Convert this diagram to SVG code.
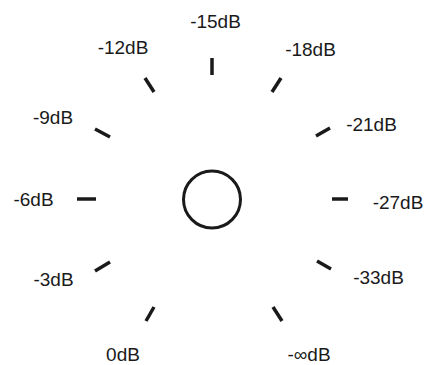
<svg xmlns="http://www.w3.org/2000/svg" width="426" height="365" viewBox="0 0 426 365">
<style>
.lbl{font-family:"Liberation Sans",Arial,sans-serif;font-size:19px;fill:#1a1a1a;text-anchor:middle}
.tick{stroke:#1a1a1a;stroke-width:3.5;stroke-linecap:butt;fill:none}
</style>
<rect width="426" height="365" fill="#ffffff"/>
<g id="dial">
<circle cx="212" cy="199.5" r="28.5" fill="none" stroke="#1a1a1a" stroke-width="3"/>
</g>
<g id="ticks">
<line class="tick" x1="212" y1="58" x2="212" y2="75"/>
<line class="tick" x1="145" y1="78" x2="154" y2="92"/>
<line class="tick" x1="272" y1="92" x2="281" y2="78"/>
<line class="tick" x1="95" y1="129" x2="110" y2="137"/>
<line class="tick" x1="77" y1="199" x2="96" y2="199"/>
<line class="tick" x1="95" y1="271" x2="110" y2="262"/>
<line class="tick" x1="146" y1="321" x2="154" y2="307"/>
<line class="tick" x1="273" y1="307" x2="282" y2="321"/>
<line class="tick" x1="317" y1="261" x2="331" y2="269"/>
<line class="tick" x1="332" y1="199" x2="348" y2="199"/>
<line class="tick" x1="316" y1="136" x2="330" y2="128"/>
</g>
<g id="labels">
<text class="lbl" x="215.5" y="28">-15dB</text>
<text class="lbl" x="123" y="54">-12dB</text>
<text class="lbl" x="310.5" y="56">-18dB</text>
<text class="lbl" x="53" y="124">-9dB</text>
<text class="lbl" x="33.5" y="206">-6dB</text>
<text class="lbl" x="53.5" y="286">-3dB</text>
<text class="lbl" x="123" y="361">0dB</text>
<text class="lbl" x="309" y="361">-∞dB</text>
<text class="lbl" x="378.5" y="284">-33dB</text>
<text class="lbl" x="398" y="209">-27dB</text>
<text class="lbl" x="371.5" y="131">-21dB</text>
</g>
</svg>
